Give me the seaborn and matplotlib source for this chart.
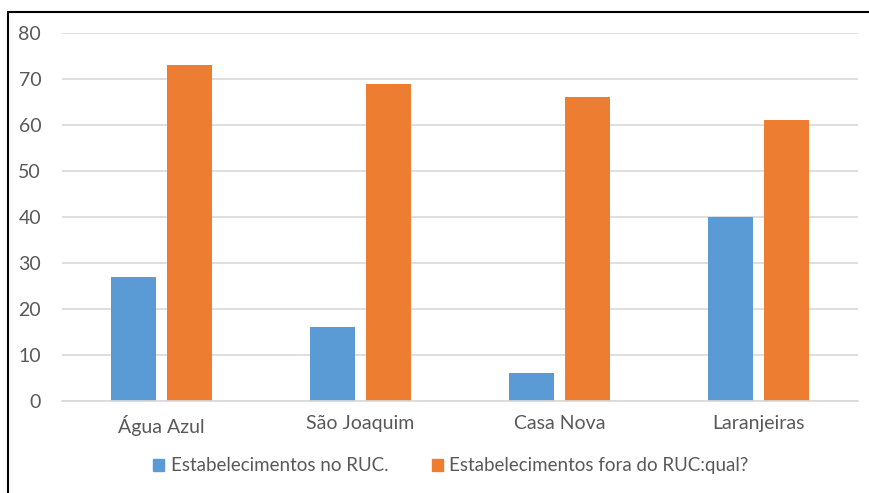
import matplotlib
matplotlib.use("Agg")
import matplotlib.pyplot as plt
from matplotlib.lines import Line2D
import seaborn as sns
import pandas as pd

categories = ["Água Azul", "São Joaquim", "Casa Nova", "Laranjeiras"]
series_names = ["Estabelecimentos no RUC.", "Estabelecimentos fora do RUC:qual?"]
no_ruc = [27, 16, 6, 40]
fora_ruc = [73, 69, 66, 61]
y_ticks = [0, 10, 20, 30, 40, 50, 60, 70, 80]

df = pd.DataFrame({
    "bairro": categories * 2,
    "serie": [series_names[0]] * len(categories) + [series_names[1]] * len(categories),
    "valor": no_ruc + fora_ruc,
})

sns.set_theme(style="white")
plt.rcParams["font.family"] = ["Lato", "DejaVu Sans"]

fig = plt.figure(figsize=(8.69, 4.93), dpi=100)
ax = fig.add_axes([0.0713, 0.1866, 0.9157, 0.7464])

sns.barplot(
    data=df, x="bairro", y="valor", hue="serie",
    palette=["#5B9BD5", "#ED7D31"], saturation=1, width=0.563, gap=0.196,
    ax=ax, errorbar=None, legend=True, linewidth=0,
)

ax.set_ylim(0, 80)
ax.set_xlim(-0.5, 3.5)
ax.set_yticks(y_ticks)
ax.set_xlabel("")
ax.set_ylabel("")
ax.yaxis.grid(True, color="#d9d9d9", linewidth=1.2)
ax.set_axisbelow(True)
for side in ["top", "right", "left"]:
    ax.spines[side].set_visible(False)
ax.spines["bottom"].set_color("#d9d9d9")
ax.spines["bottom"].set_linewidth(1.2)
ax.tick_params(axis="both", length=0, labelsize=14, colors="#595959")
ax.tick_params(axis="y", pad=15)
ax.tick_params(axis="x", pad=10)

ax.legend_.remove()
handles = [plt.Rectangle((0, 0), 1, 1, color=c) for c in ["#5B9BD5", "#ED7D31"]]
fig.legend(
    handles, series_names, loc="center", bbox_to_anchor=(0.519, 0.055),
    ncol=2, frameon=False, fontsize=13.5, handlelength=0.6, handleheight=0.6,
    handletextpad=0.35, columnspacing=2.3, labelcolor="#595959",
)

# frame lines on the left and top of the figure
fig.add_artist(Line2D([8 / 869, 8 / 869], [0, 1 - 12 / 493], color="black", linewidth=1.5))
fig.add_artist(Line2D([8 / 869, 1], [1 - 12 / 493, 1 - 12 / 493], color="black", linewidth=1.5))

fig.savefig("out.png", dpi=100)
